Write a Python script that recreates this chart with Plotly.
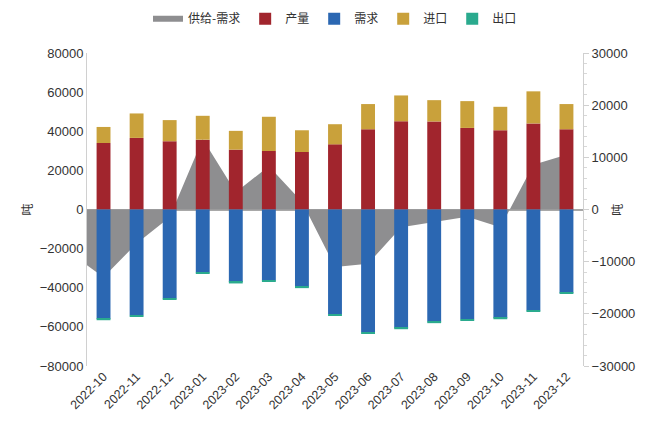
import plotly.graph_objects as go

# Months (area series includes one earlier month that lies outside the visible range)
area_months = ["2022-09", "2022-10", "2022-11", "2022-12", "2023-01", "2023-02", "2023-03",
               "2023-04", "2023-05", "2023-06", "2023-07", "2023-08", "2023-09",
               "2023-10", "2023-11", "2023-12"]
months = area_months[1:]

supply_minus_demand = [-8400, -13000, -6500, -1500, 13500, 3300, 8300, 1500, -11000,
                       -10400, -3400, -2400, -1400, -3400, 8600, 10500]
production = [34000, 36600, 34900, 35700, 30600, 29900, 29400, 33300, 41000,
              45100, 45000, 41700, 40500, 44000, 41000]
imports = [8200, 12500, 10800, 12200, 9600, 17500, 11100, 10300, 12900,
           13200, 10900, 13700, 12000, 16400, 12900]
demand = [-55800, -54100, -45500, -32200, -37000, -36300, -39500, -53600, -62800,
          -60500, -57300, -56100, -55300, -51600, -42500]
exports = [-800, -800, -700, -500, -800, -500, -700, -800, -800,
           -700, -800, -800, -800, -600, -600]

fig = go.Figure()

fig.add_trace(go.Scatter(
    x=area_months, y=supply_minus_demand, name="供给-需求",
    mode="none", fill="tozeroy", fillcolor="#8e8e90",
    yaxis="y"))

bar_w = 0.42
fig.add_trace(go.Bar(x=months, y=production, name="产量", marker_color="#a1252d",
                     width=bar_w, yaxis="y2", marker_line_width=0))
fig.add_trace(go.Bar(x=months, y=demand, name="需求", marker_color="#2b67b2",
                     width=bar_w, yaxis="y2", marker_line_width=0))
fig.add_trace(go.Bar(x=months, y=imports, name="进口", marker_color="#c9a13b",
                     width=bar_w, yaxis="y2", marker_line_width=0))
fig.add_trace(go.Bar(x=months, y=exports, name="出口", marker_color="#2aaa8e",
                     width=bar_w, yaxis="y2", marker_line_width=0))

tickfont = dict(family="Liberation Sans, Arial, sans-serif", size=13, color="#333333")

fig.update_layout(
    width=647, height=430,
    margin=dict(l=87, r=59, t=53, b=64),
    paper_bgcolor="white", plot_bgcolor="white",
    barmode="relative",
    showlegend=True,
    legend=dict(orientation="h", x=0.5, xanchor="center", y=0.99, yref="container",
                yanchor="top", font=dict(family="Noto Sans CJK SC", size=12, color="#333333"),
                itemwidth=30, traceorder="normal", itemsizing="constant",
                tracegroupgap=0),
    xaxis=dict(type="category", categoryorder="array", categoryarray=area_months,
               range=[0.5, 15.5], tickangle=-45, tickfont=dict(
                   family="Liberation Sans, Arial, sans-serif", size=12.5, color="#333333"),
               showgrid=False, showline=False, ticks=""),
    yaxis=dict(side="right", range=[-30000, 30000], dtick=10000, tickfont=tickfont,
               tickformat="d",
               showgrid=False, zeroline=True, zerolinecolor="#a8a8a8", zerolinewidth=1.5,
               showline=True, linecolor="#d0d0d0", linewidth=1,
               ticks="outside", ticklen=5, tickcolor="#d0d0d0",
               minor=dict(dtick=2000, ticks="outside", ticklen=3, tickcolor="#d8d8d8")),
    yaxis2=dict(side="left", overlaying="y", range=[-80000, 80000], dtick=20000,
                tickfont=tickfont, tickformat="d", showgrid=False, zeroline=False,
                showline=True, linecolor="#d0d0d0", linewidth=1, ticks=""),
    annotations=[
        dict(text="吨", xref="paper", yref="paper", x=-0.144, y=0.5, showarrow=False,
             textangle=-90, font=dict(family="Noto Sans CJK SC", size=12, color="#333333")),
        dict(text="吨", xref="paper", yref="paper", x=1.088, y=0.5, showarrow=False,
             textangle=-90, font=dict(family="Noto Sans CJK SC", size=12, color="#333333")),
    ],
)

fig.write_html("out.html")
